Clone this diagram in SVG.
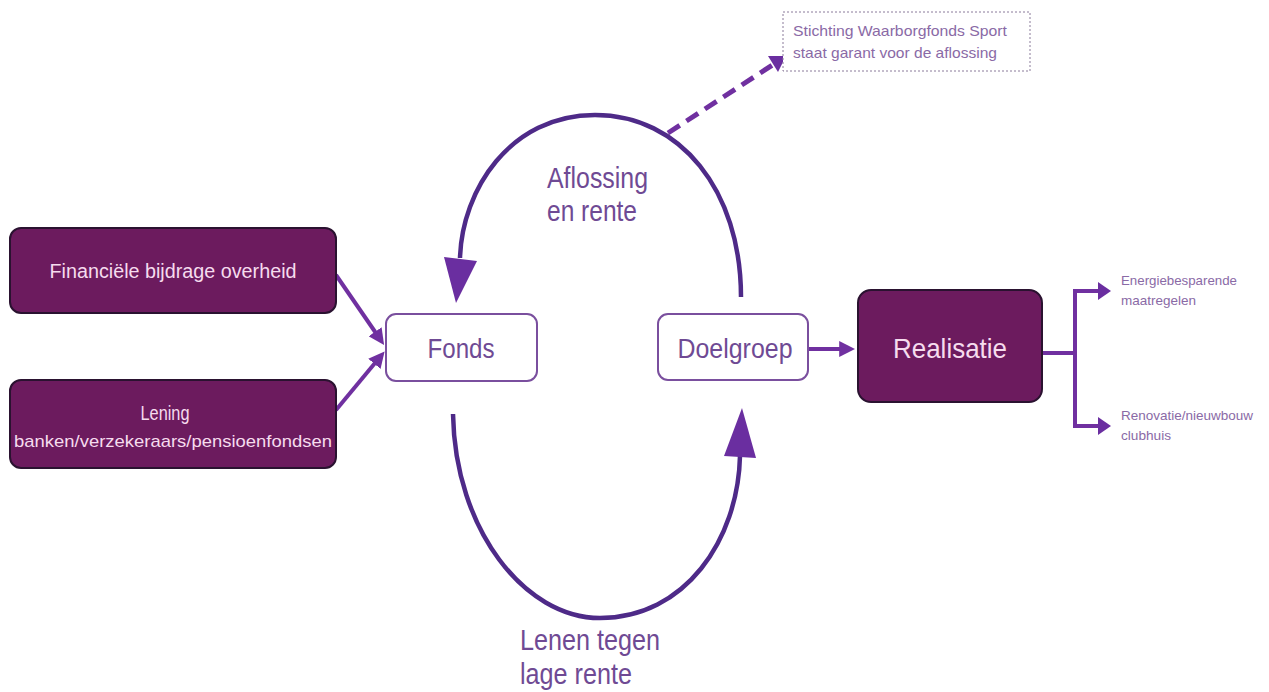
<svg xmlns="http://www.w3.org/2000/svg" width="1269" height="692" viewBox="0 0 1269 692">
<defs>
<style>
.dark{fill:#6c1b5e;stroke:#2a1230;stroke-width:2}
.light{fill:#ffffff;stroke:#7a4f9e;stroke-width:2}
.wt{fill:#f6dcee;font-family:"Liberation Sans",Arial,sans-serif;text-anchor:middle}
.pt{fill:#6f4a94;font-family:"Liberation Sans",Arial,sans-serif}
.st{fill:#8a6aa6;font-family:"Liberation Sans",Arial,sans-serif}
.con{fill:none;stroke:#7030a0;stroke-width:4}
.arc{fill:none;stroke:#4e2a88;stroke-width:4.5}
.head{fill:#6a2ea0}
</style>
<marker id="ah" markerWidth="4" markerHeight="4" refX="2.2" refY="2" orient="auto" markerUnits="strokeWidth">
<path d="M0,0 L4,2 L0,4 z" fill="#7030a0"/>
</marker>
</defs>
<rect width="1269" height="692" fill="#ffffff"/>

<g id="connectors">
<line class="con" x1="336" y1="275" x2="380" y2="339" marker-end="url(#ah)"/>
<line class="con" x1="336" y1="410" x2="380" y2="357" marker-end="url(#ah)"/>
<line class="con" x1="808" y1="349" x2="848" y2="349" marker-end="url(#ah)"/>
<polyline class="con" points="1042,353 1075,353"/>
<polyline class="con" points="1102,291 1075,291 1075,426 1102,426" stroke-linejoin="miter"/>
<polygon class="head" points="1098,282 1111,291 1098,300"/>
<polygon class="head" points="1098,417 1111,426 1098,435"/>
<line x1="668" y1="133" x2="774" y2="64" stroke="#7030a0" stroke-width="5" stroke-dasharray="14 8"/>
<polygon class="head" points="768,56 786,56 778,72"/>
<path class="arc" d="M741,297 C741,190 680,115 595,115 C510,115 462,190 460,258"/>
<polygon class="head" points="444,257 477,261 456,303"/>
<path class="arc" d="M453,414 C455,530 525,618 600,618 C685,618 738,540 740,456"/>
<polygon class="head" points="724,456 756,458 742,408"/>
</g>

<g id="node-stichting">
<rect x="783" y="12" width="247" height="59" fill="#ffffff" stroke="#8a7a9a" stroke-width="1" stroke-dasharray="2 2"/>
<text class="st" x="793" y="36" font-size="15" textLength="214" lengthAdjust="spacingAndGlyphs">Stichting Waarborgfonds Sport</text>
<text class="st" x="793" y="58" font-size="15" textLength="204" lengthAdjust="spacingAndGlyphs">staat garant voor de aflossing</text>
</g>

<g id="node-financiele">
<rect class="dark" x="10" y="228" width="326" height="85" rx="11"/>
<text class="wt" x="173" y="278" font-size="20" textLength="247" lengthAdjust="spacingAndGlyphs">Financiële bijdrage overheid</text>
</g>

<g id="node-lening">
<rect class="dark" x="10" y="380" width="326" height="88" rx="11"/>
<text class="wt" x="165" y="420" font-size="20" textLength="49" lengthAdjust="spacingAndGlyphs">Lening</text>
<text class="wt" x="173" y="447" font-size="17" textLength="318" lengthAdjust="spacingAndGlyphs">banken/verzekeraars/pensioenfondsen</text>
</g>

<g id="node-fonds">
<rect class="light" x="386" y="314" width="151" height="67" rx="10"/>
<text class="pt" x="461" y="358" font-size="27" text-anchor="middle" textLength="67" lengthAdjust="spacingAndGlyphs">Fonds</text>
</g>

<g id="node-doelgroep">
<rect class="light" x="658" y="314" width="150" height="66" rx="10"/>
<text class="pt" x="735" y="358" font-size="27" text-anchor="middle" textLength="115" lengthAdjust="spacingAndGlyphs">Doelgroep</text>
</g>

<g id="node-realisatie">
<rect class="dark" x="858" y="290" width="184" height="112" rx="13"/>
<text class="wt" x="950" y="358" font-size="28" textLength="114" lengthAdjust="spacingAndGlyphs">Realisatie</text>
</g>

<g id="labels">
<text class="pt" x="547" y="188" font-size="29" textLength="101" lengthAdjust="spacingAndGlyphs">Aflossing</text>
<text class="pt" x="547" y="221" font-size="29" textLength="90" lengthAdjust="spacingAndGlyphs">en rente</text>
<text class="pt" x="520" y="650" font-size="29" textLength="140" lengthAdjust="spacingAndGlyphs">Lenen tegen</text>
<text class="pt" x="520" y="684" font-size="29" textLength="112" lengthAdjust="spacingAndGlyphs">lage rente</text>
<text class="st" x="1121" y="285" font-size="13" textLength="116" lengthAdjust="spacingAndGlyphs">Energiebesparende</text>
<text class="st" x="1121" y="305" font-size="13" textLength="75" lengthAdjust="spacingAndGlyphs">maatregelen</text>
<text class="st" x="1121" y="420" font-size="13" textLength="132" lengthAdjust="spacingAndGlyphs">Renovatie/nieuwbouw</text>
<text class="st" x="1121" y="440" font-size="13" textLength="50" lengthAdjust="spacingAndGlyphs">clubhuis</text>
</g>
</svg>
